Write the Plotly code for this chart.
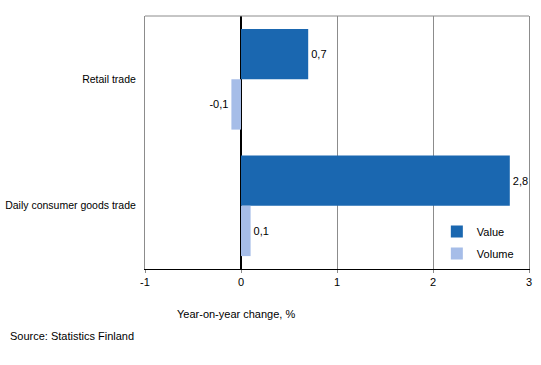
import plotly.graph_objects as go

categories = ["Retail trade", "Daily consumer goods trade"]
value = [0.7, 2.8]
volume = [-0.1, 0.1]
x_ticks = [-1, 0, 1, 2, 3]

FONT = "Liberation Sans, Arial, sans-serif"
FS = 11
GRAY = "#8c8c8c"

fig = go.Figure()
fig.add_trace(go.Bar(
    y=categories, x=value, orientation="h", name="Value",
    marker=dict(color="#1a67b0", line=dict(width=0)),
    texttemplate="%{x:.1f}", textposition="outside",
    textfont=dict(size=FS, color="black", family=FONT),
    cliponaxis=False, legendgroup="a",
))
fig.add_trace(go.Bar(
    y=categories, x=volume, orientation="h", name="Volume",
    marker=dict(color="#a6bde8", line=dict(width=0)),
    texttemplate="%{x:.1f}", textposition="outside",
    textfont=dict(size=FS, color="black", family=FONT),
    cliponaxis=False, legendgroup="b",
))

fig.update_layout(
    width=541, height=365,
    margin=dict(l=145, r=12, t=16, b=96),
    paper_bgcolor="white", plot_bgcolor="white",
    barmode="group", bargap=0.204, bargroupgap=0,
    separators=",.",
    font=dict(family=FONT, size=FS, color="black"),
    showlegend=True,
    legend=dict(x=0.76, y=0.206, xanchor="left", yanchor="top",
                bgcolor="rgba(0,0,0,0)", tracegroupgap=3,
                traceorder="grouped", font=dict(size=FS)),
    xaxis=dict(
        range=[-1, 3], tickvals=x_ticks, ticktext=[str(t) for t in x_ticks],
        showgrid=True, gridcolor=GRAY, gridwidth=1,
        zeroline=True, zerolinecolor="black", zerolinewidth=1.5,
        showline=True, linecolor="black", linewidth=1, mirror=False,
        ticks="outside", ticklen=3, tickcolor=GRAY,
        tickfont=dict(size=FS), automargin=False,
    ),
    yaxis=dict(
        autorange="reversed",
        showline=True, linecolor=GRAY, linewidth=1, mirror=True,
        showgrid=False, ticks="", ticklabelstandoff=6,
        tickfont=dict(size=10.5), automargin=False,
    ),
    shapes=[
        dict(type="line", xref="paper", yref="paper", x0=0, x1=1, y0=1, y1=1,
             line=dict(color=GRAY, width=1)),
    ],
    annotations=[
        dict(text="Year-on-year change, %", xref="paper", yref="paper",
             x=0.078, y=-0.178, xanchor="left", yanchor="middle",
             showarrow=False, font=dict(size=FS)),
        dict(text="Source: Statistics Finland", xref="paper", yref="paper",
             x=-0.357, y=-0.265, xanchor="left", yanchor="middle",
             showarrow=False, font=dict(size=FS)),
    ],
)

fig.write_html(
    "out.html",
    config={"displayModeBar": False},
    post_script="document.body.style.margin='0';document.body.style.overflow='hidden';",
)
